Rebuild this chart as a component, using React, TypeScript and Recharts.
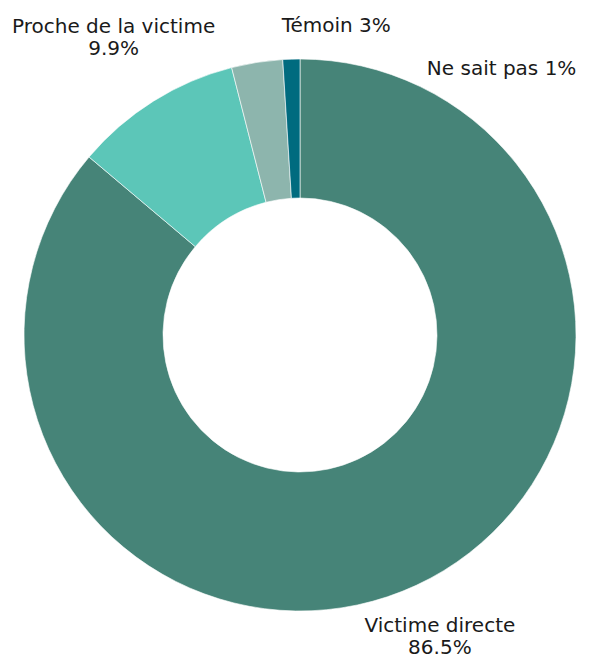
import { PieChart, Pie, Cell } from 'recharts';

const categories = ['Victime directe', 'Proche de la victime', 'Témoin', 'Ne sait pas'];
const shares = [86.5, 9.9, 3, 1];
const colors = ['#468478', '#5cc6b8', '#8db5ad', '#006b7f'];

const data = categories.map((name, i) => ({ name, value: shares[i] }));

const RADIAN = Math.PI / 180;
// nudges for the small slices so their labels don't collide at the top
const nudges = [
  [0, 0],
  [-10, -17],
  [88, 19],
  [212, 66],
];

const renderLabel = (props: any) => {
  const { cx, cy, midAngle, outerRadius, index, name, value } = props;
  const r = outerRadius + 56;
  const x = cx + r * Math.cos(-midAngle * RADIAN) + nudges[index][0];
  const y = cy + r * Math.sin(-midAngle * RADIAN) + nudges[index][1];
  const twoLines = value > 5;
  const style = { fontFamily: 'DejaVu Sans, sans-serif', fontSize: 20, fill: '#1a1a1a' };
  if (twoLines) {
    return (
      <text x={x} y={y} textAnchor="middle" style={style}>
        <tspan x={x} dy={-4}>{name}</tspan>
        <tspan x={x} dy={22}>{`${value}%`}</tspan>
      </text>
    );
  }
  return (
    <text x={x} y={y} textAnchor="middle" dominantBaseline="middle" style={style}>
      {`${name} ${value}%`}
    </text>
  );
};

export default function App() {
  return (
    <div style={{ position: 'absolute', top: 0, left: 0, width: 597, height: 658, background: '#fff' }}>
      <PieChart width={597} height={658} margin={{ top: 0, right: 0, bottom: 0, left: 0 }}>
        <Pie
          data={data}
          dataKey="value"
          nameKey="name"
          cx={300}
          cy={335}
          innerRadius={137}
          outerRadius={276}
          startAngle={90}
          endAngle={-270}
          stroke="#ffffff"
          strokeOpacity={0.6}
          strokeWidth={1}
          label={renderLabel}
          labelLine={false}
          isAnimationActive={false}
        >
          {data.map((d, i) => (
            <Cell key={d.name} fill={colors[i]} />
          ))}
        </Pie>
      </PieChart>
    </div>
  );
}
